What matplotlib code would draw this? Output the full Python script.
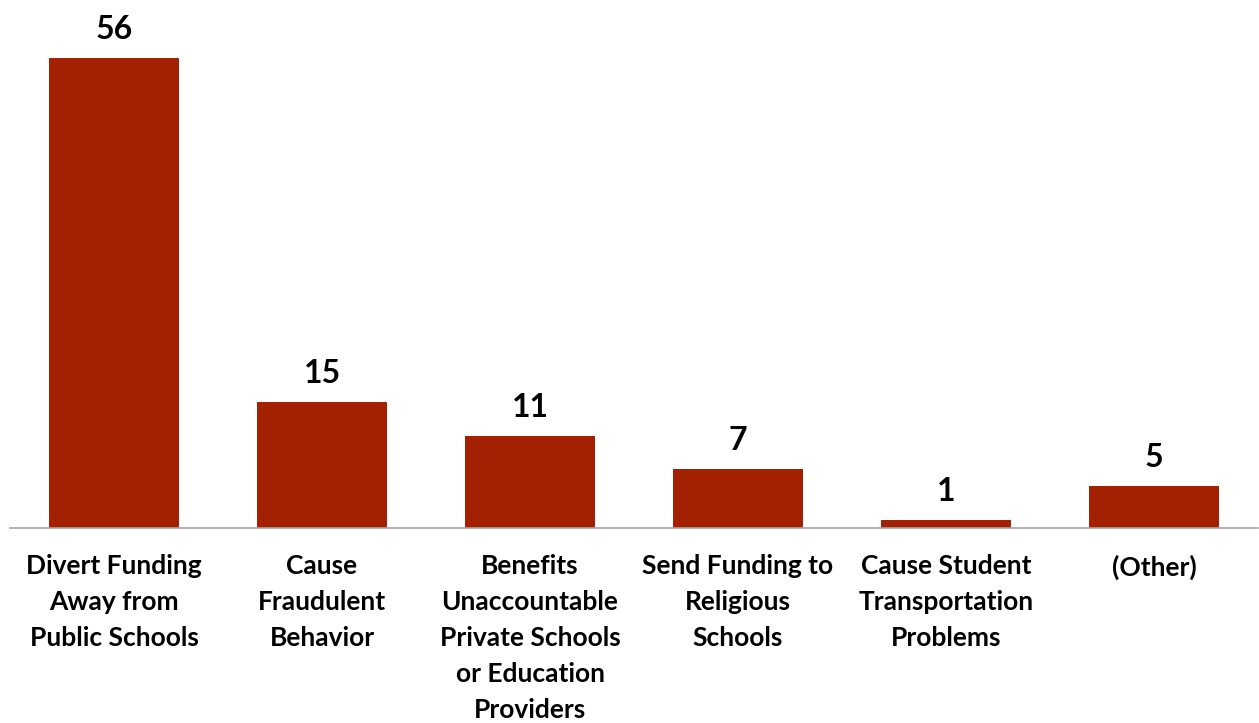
import matplotlib
matplotlib.use("Agg")
import matplotlib.pyplot as plt

categories = [
    "Divert Funding\nAway from\nPublic Schools",
    "Cause\nFraudulent\nBehavior",
    "Benefits\nUnaccountable\nPrivate Schools\nor Education\nProviders",
    "Send Funding to\nReligious\nSchools",
    "Cause Student\nTransportation\nProblems",
    "(Other)",
]
values = [56, 15, 11, 7, 1, 5]

bar_color = "#A32000"
plt.rcParams['font.family'] = ['Lato', 'DejaVu Sans']

fig = plt.figure(figsize=(12.59, 7.23), dpi=100)
ax = fig.add_axes([10/1259, 195/723, 1248/1259, 528/723])
x = list(range(len(values)))
ax.bar(x, values, width=0.625, color=bar_color, zorder=2)
ax.set_xlim(-0.5, len(values) - 0.5)
ax.set_ylim(0, 62.93)

for xi, v in zip(x, values):
    ax.annotate(str(v), (xi, v), xytext=(0, 10), textcoords="offset points",
                ha="center", va="bottom", fontsize=23, fontweight="bold", color="black")

ax.set_xticks(x)
ax.set_xticklabels(categories, fontsize=19, fontweight="bold", linespacing=1.6, va="top")
ax.tick_params(axis="x", length=0, pad=19)
ax.set_yticks([])
for s in ["top", "left", "right"]:
    ax.spines[s].set_visible(False)
ax.spines["bottom"].set_color("#A6A6A6")
ax.spines["bottom"].set_linewidth(1.2)

fig.savefig("out.png", dpi=100)
